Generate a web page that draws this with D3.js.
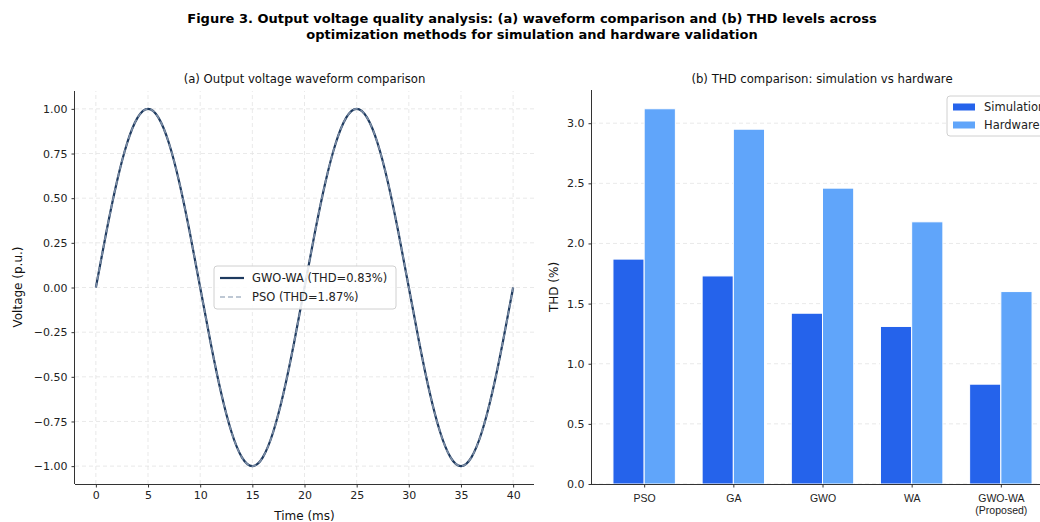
<!DOCTYPE html>
<html>
<head>
<meta charset="utf-8">
<script src="https://cdn.jsdelivr.net/npm/d3@7"></script>
<style>
  body { margin: 0; background: #fff; }
  svg { font-family: "DejaVu Sans", sans-serif; display: block; }
</style>
</head>
<body>
<div id="chart"></div>
<script>
// waveform samples, one per ms
const timeMs = [0,1,2,3,4,5,6,7,8,9,10,11,12,13,14,15,16,17,18,19,20,21,22,23,24,25,26,27,28,29,30,31,32,33,34,35,36,37,38,39,40];
const gwoWaVoltage = [0,0.309,0.588,0.809,0.951,1,0.951,0.809,0.588,0.309,0,-0.309,-0.588,-0.809,-0.951,-1,-0.951,-0.809,-0.588,-0.309,0,0.309,0.588,0.809,0.951,1,0.951,0.809,0.588,0.309,0,-0.309,-0.588,-0.809,-0.951,-1,-0.951,-0.809,-0.588,-0.309,0];
const psoVoltage = [0,0.309,0.588,0.809,0.951,1,0.951,0.809,0.588,0.309,0,-0.309,-0.588,-0.809,-0.951,-1,-0.951,-0.809,-0.588,-0.309,0,0.309,0.588,0.809,0.951,1,0.951,0.809,0.588,0.309,0,-0.309,-0.588,-0.809,-0.951,-1,-0.951,-0.809,-0.588,-0.309,0];
const timeTicks = [0,5,10,15,20,25,30,35,40];
const voltTicks = [-1,-0.75,-0.5,-0.25,0,0.25,0.5,0.75,1];

const methods = ["PSO", "GA", "GWO", "WA", "GWO-WA\n(Proposed)"];
const thdSimulation = [1.87, 1.73, 1.42, 1.31, 0.83];
const thdHardware = [3.12, 2.95, 2.46, 2.18, 1.60];
const thdTicks = [0, 0.5, 1, 1.5, 2, 2.5, 3];

const W = 1040, H = 522;
const axisColor = "#333";
const simColor = "#2563eb", hwColor = "#60a5fa";

const svg = d3.select("#chart").append("svg")
  .attr("width", W).attr("height", H);

svg.append("rect").attr("width", W).attr("height", H).attr("fill", "#fff");

// figure title
svg.append("text")
  .attr("x", 532).attr("y", 23)
  .attr("text-anchor", "middle")
  .attr("font-size", 13).attr("font-weight", "bold")
  .selectAll("tspan")
  .data(["Figure 3. Output voltage quality analysis: (a) waveform comparison and (b) THD levels across",
         "optimization methods for simulation and hardware validation"])
  .join("tspan")
  .attr("x", 532).attr("dy", (d, i) => i ? 16 : 0)
  .text(d => d);

const fmtMinus = s => s.replace("-", "\u2212");

function styleAxis(g) {
  g.select(".domain").attr("stroke", axisColor).attr("stroke-width", 1);
  g.selectAll(".tick line").attr("stroke", axisColor);
  g.selectAll(".tick text").attr("fill", "#222").attr("font-family", "DejaVu Sans, sans-serif");
}

// ---------- (a) waveform ----------
const xa = d3.scaleLinear().domain([-2, 42]).range([75, 534]);
const ya = d3.scaleLinear().domain([-1.1, 1.1]).range([484, 91]);

const gA = svg.append("g");

// grid
gA.append("g").selectAll("line").data(timeTicks).join("line")
  .attr("x1", d => xa(d)).attr("x2", d => xa(d))
  .attr("y1", ya.range()[0]).attr("y2", ya.range()[1])
  .attr("stroke", "#e3e3e3").attr("stroke-dasharray", "4,3").attr("stroke-width", 0.8);
gA.append("g").selectAll("line").data(voltTicks).join("line")
  .attr("x1", xa.range()[0]).attr("x2", xa.range()[1])
  .attr("y1", d => ya(d)).attr("y2", d => ya(d))
  .attr("stroke", "#e3e3e3").attr("stroke-dasharray", "4,3").attr("stroke-width", 0.8);

const wave = ys => d3.line()
  .x((d, i) => xa(timeMs[i])).y(d => ya(d))
  .curve(d3.curveNatural)(ys);

gA.append("path").attr("d", wave(gwoWaVoltage))
  .attr("fill", "none").attr("stroke", "#1e3a5f").attr("stroke-width", 2.2);
gA.append("path").attr("d", wave(psoVoltage))
  .attr("fill", "none").attr("stroke", "#94a3b8").attr("stroke-opacity", 0.8)
  .attr("stroke-width", 1.6).attr("stroke-dasharray", "5,3");

gA.append("g").attr("transform", "translate(0,484)")
  .call(d3.axisBottom(xa).tickValues(timeTicks).tickSize(3.5).tickPadding(4).tickFormat(d3.format("d")))
  .call(g => g.select(".domain").attr("d", `M${xa.range()[0]},0.5H${xa.range()[1]}`))
  .call(styleAxis)
  .selectAll("text").attr("font-size", 11);

gA.append("g").attr("transform", "translate(75,0)")
  .call(d3.axisLeft(ya).tickValues(voltTicks).tickSize(3.5).tickPadding(4).tickFormat(d => fmtMinus(d3.format(".2f")(d))))
  .call(g => g.select(".domain").attr("d", `M-0.5,${ya.range()[0]}V${ya.range()[1]}`))
  .call(styleAxis)
  .selectAll("text").attr("font-size", 11);

gA.append("text").attr("x", 304.5).attr("y", 83).attr("text-anchor", "middle")
  .attr("font-size", 11.7).attr("fill", "#111").text("(a) Output voltage waveform comparison");
gA.append("text").attr("x", 304.5).attr("y", 520).attr("text-anchor", "middle")
  .attr("font-size", 12).attr("fill", "#111").text("Time (ms)");
gA.append("text").attr("transform", "translate(22,287) rotate(-90)").attr("text-anchor", "middle")
  .attr("font-size", 12).attr("fill", "#111").text("Voltage (p.u.)");

// legend (a)
const legA = gA.append("g").attr("transform", "translate(214,266)");
legA.append("rect").attr("width", 182).attr("height", 43).attr("rx", 3)
  .attr("fill", "#fff").attr("fill-opacity", 0.85).attr("stroke", "#d0d0d0");
const legAItems = [
  {label: "GWO-WA (THD=0.83%)", color: "#1e3a5f", dash: null, w: 2.2, op: 1},
  {label: "PSO (THD=1.87%)", color: "#94a3b8", dash: "5,3", w: 1.6, op: 0.8}
];
legAItems.forEach((d, i) => {
  const yy = 12 + i * 19;
  legA.append("line").attr("x1", 6).attr("x2", 30).attr("y1", yy).attr("y2", yy)
    .attr("stroke", d.color).attr("stroke-width", d.w).attr("stroke-opacity", d.op)
    .attr("stroke-dasharray", d.dash);
  legA.append("text").attr("x", 38).attr("y", yy + 4).attr("font-size", 11.5)
    .attr("fill", "#222").text(d.label);
});

// ---------- (b) THD bars ----------
const xb = d3.scaleLinear().domain([-0.585, 4.585]).range([592, 1053]);
const yb = d3.scaleLinear().domain([0, 3.276]).range([484, 90]);
const barW = 0.35;

const gB = svg.append("g");

gB.append("g").selectAll("line").data(thdTicks).join("line")
  .attr("x1", xb.range()[0]).attr("x2", xb.range()[1])
  .attr("y1", d => yb(d)).attr("y2", d => yb(d))
  .attr("stroke", "#e3e3e3").attr("stroke-dasharray", "4,3").attr("stroke-width", 0.8);

const series = [
  {name: "Simulation", values: thdSimulation, color: simColor, offset: -barW / 2},
  {name: "Hardware", values: thdHardware, color: hwColor, offset: barW / 2}
];

series.forEach(s => {
  gB.append("g").selectAll("rect").data(s.values).join("rect")
    .attr("x", (d, i) => xb(i + s.offset - barW / 2))
    .attr("width", xb(barW) - xb(0))
    .attr("y", d => yb(d))
    .attr("height", d => yb(0) - yb(d))
    .attr("fill", s.color)
    .attr("stroke", "#fff").attr("stroke-width", 1);
});

gB.append("g").attr("transform", "translate(0,484)")
  .call(d3.axisBottom(xb).tickValues(d3.range(methods.length)).tickSize(3.5).tickPadding(4).tickFormat(""))
  .call(g => g.select(".domain").attr("d", `M${xb.range()[0]},0.5H${xb.range()[1]}`))
  .call(styleAxis)
  .call(g => g.selectAll(".tick").each(function(d) {
    const t = d3.select(this).append("text").attr("fill", "#222")
      .attr("font-size", 10.5).attr("text-anchor", "middle").attr("y", 18);
    methods[d].split("\n").forEach((line, i) => {
      t.append("tspan").attr("x", 0).attr("dy", i ? 12 : 0).text(line);
    });
  }));

gB.append("g").attr("transform", "translate(592,0)")
  .call(d3.axisLeft(yb).tickValues(thdTicks).tickSize(3.5).tickPadding(4).tickFormat(d3.format(".1f")))
  .call(g => g.select(".domain").attr("d", `M-0.5,${yb.range()[0]}V${yb.range()[1]}`))
  .call(styleAxis)
  .selectAll("text").attr("font-size", 11);

gB.append("text").attr("x", 822).attr("y", 83).attr("text-anchor", "middle")
  .attr("font-size", 11.7).attr("fill", "#111").text("(b) THD comparison: simulation vs hardware");
gB.append("text").attr("transform", "translate(558,287) rotate(-90)").attr("text-anchor", "middle")
  .attr("font-size", 12).attr("fill", "#111").text("THD (%)");

// legend (b) — runs past the right edge, as in the source figure
const legB = gB.append("g").attr("transform", "translate(947,96)");
legB.append("rect").attr("width", 110).attr("height", 40).attr("rx", 3)
  .attr("fill", "#fff").attr("fill-opacity", 0.85).attr("stroke", "#d0d0d0");
series.forEach((s, i) => {
  const yy = 11 + i * 18;
  legB.append("rect").attr("x", 6).attr("y", yy - 3.5).attr("width", 22).attr("height", 7)
    .attr("fill", s.color);
  legB.append("text").attr("x", 37).attr("y", yy + 4).attr("font-size", 11.5)
    .attr("fill", "#222").text(s.name);
});
</script>
</body>
</html>
